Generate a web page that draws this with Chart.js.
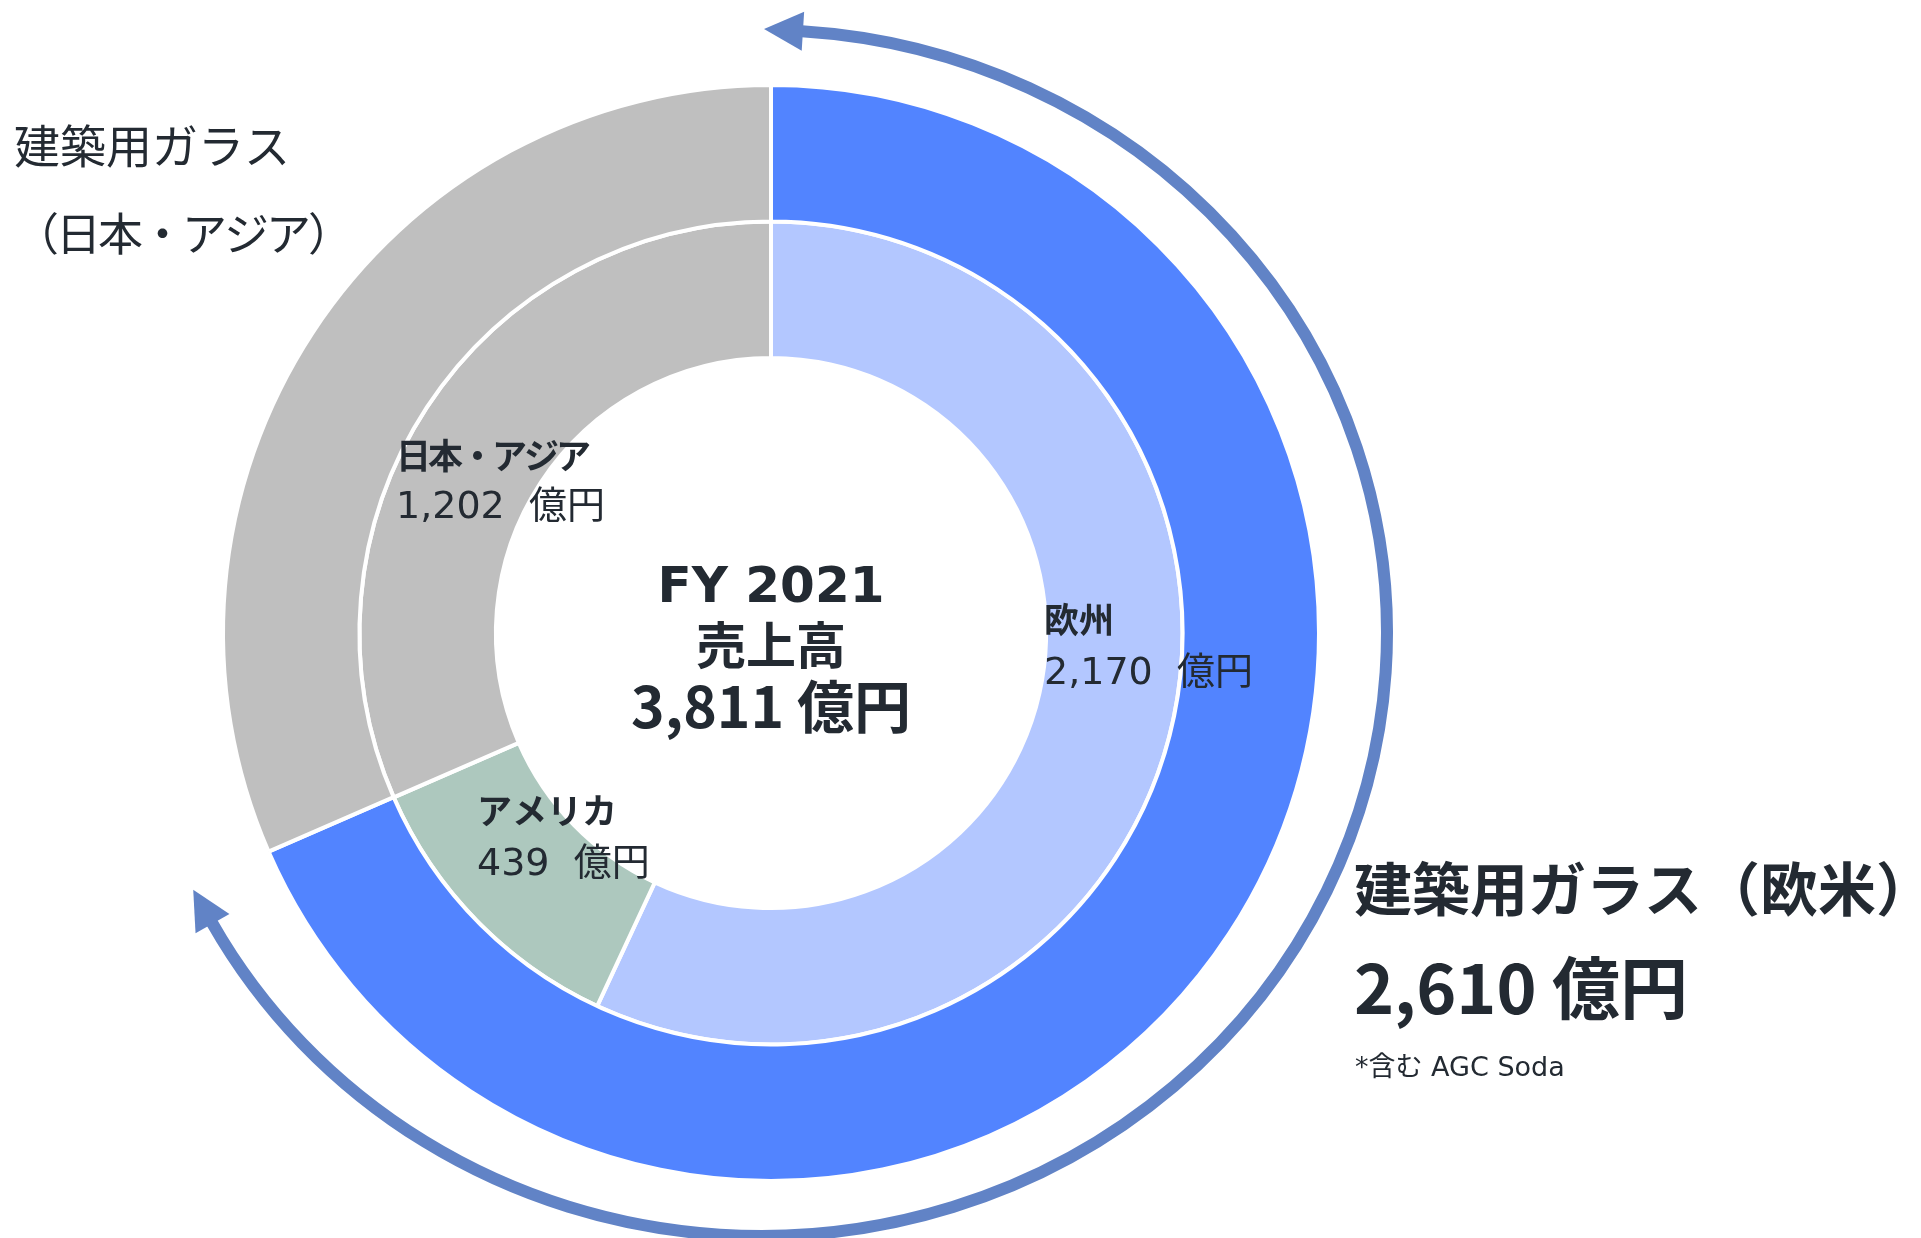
<!DOCTYPE html>
<html lang="ja">
<head>
<meta charset="utf-8">
<script src="https://cdn.jsdelivr.net/npm/chart.js@4.4.0/dist/chart.umd.min.js"></script>
<style>
  html, body { margin: 0; padding: 0; background: #ffffff; }
  #wrap { position: relative; width: 1921px; height: 1238px; }
</style>
</head>
<body>
<div id="wrap"><canvas id="c"></canvas></div>
<script>
// ---- data ----
const outerLabels = ['建築用ガラス（欧米）', '建築用ガラス（日本・アジア）'];
const outerValues = [2610, 1202];
const innerLabels = ['欧州', 'アメリカ', '日本・アジア'];
const innerValues = [2170, 439, 1202];
const fiscalYear = 'FY 2021';
const unit = '億円';

// ---- styles ----
const outerColors = ['#5284FF', '#BFBFBF'];
const innerColors = ['#B3C7FF', '#ADC8BE', '#BFBFBF'];
const textColor = '#232A32';
const arrowColor = '#6183C6';
const LATIN = '"DejaVu Sans", "Noto Sans CJK JP", sans-serif';
const CJK = '"Noto Sans CJK JP", sans-serif';

const fmt = v => v.toLocaleString('en-US');
const total = innerValues.reduce((a, b) => a + b, 0);

// label anchors relative to chart center (px)
const innerLabelPos = [
  { dx: 273, dy: -13, gap: 54 },   // 欧州
  { dx: -294, dy: 178, gap: 54 },  // アメリカ
  { dx: -375, dy: -177, gap: 52 }  // 日本・アジア
];

function drawArrow(ctx, cx, cy, rx, ry, t0, t1) {
  const lw = 12, L = 38, W = 39;
  ctx.save();
  ctx.strokeStyle = arrowColor;
  ctx.fillStyle = arrowColor;
  ctx.lineWidth = lw;
  ctx.lineCap = 'butt';
  ctx.beginPath();
  ctx.ellipse(cx, cy, rx, ry, 0, t0, t1);
  ctx.stroke();
  const head = (t, sign) => {
    const px = cx + rx * Math.cos(t), py = cy + ry * Math.sin(t);
    let tx = -rx * Math.sin(t), ty = ry * Math.cos(t);
    const n = Math.hypot(tx, ty);
    tx = tx / n * sign; ty = ty / n * sign;
    const nx = -ty, ny = tx;
    ctx.beginPath();
    ctx.moveTo(px + tx * L, py + ty * L);
    ctx.lineTo(px + nx * W / 2 - tx * 1, py + ny * W / 2 - ty * 1);
    ctx.lineTo(px - nx * W / 2 - tx * 1, py - ny * W / 2 - ty * 1);
    ctx.closePath();
    ctx.fill();
  };
  head(t0, -1);
  head(t1, 1);
  ctx.restore();
}

function text(ctx, str, x, y, font, align, spacing) {
  ctx.font = font;
  ctx.textAlign = align || 'left';
  ctx.textBaseline = 'middle';
  ctx.letterSpacing = spacing || '0px';
  ctx.fillText(str, x, y);
  ctx.letterSpacing = '0px';
}

const annotate = {
  id: 'annotate',
  afterDatasetsDraw(chart) {
    const ctx = chart.ctx;
    const arc = chart.getDatasetMeta(0).data[0];
    const cx = arc.x, cy = arc.y, R = arc.outerRadius;
    const deg = Math.PI / 180;

    // curved arrow around the 欧米 segment
    drawArrow(ctx, cx - 10, cy, R * 1.1423, R * 1.1004,
      arc.startAngle + 3.75 * deg, arc.endAngle - 5.2 * deg);

    ctx.save();
    ctx.fillStyle = textColor;

    // center text
    text(ctx, fiscalYear, cx, cy - 44, 'bold 50px ' + LATIN, 'center');
    text(ctx, '売上高', cx, cy + 12, 'bold 50px ' + CJK, 'center');
    text(ctx, fmt(total) + ' ' + unit, cx, cy + 73, 'bold 57px ' + CJK, 'center');

    // inner ring labels
    innerLabels.forEach((lab, i) => {
      const p = innerLabelPos[i];
      text(ctx, lab, cx + p.dx, cy + p.dy, 'bold 35px ' + CJK, 'left', i === 2 ? '-3px' : '0px');
      text(ctx, fmt(innerValues[i]) + '  ' + unit, cx + p.dx, cy + p.dy + p.gap, '38px ' + LATIN);
    });

    // outer labels
    text(ctx, '建築用ガラス', 14, 146, '46px ' + CJK);
    text(ctx, '（日本・アジア）', 14, 234, '45px ' + CJK, 'left', '-3px');

    text(ctx, outerLabels[0], 1354, 889, 'bold 58px ' + CJK, 'left', '0px');
    text(ctx, fmt(outerValues[0]) + ' ' + unit, 1354, 988, 'bold 68px ' + CJK);
    text(ctx, '*含む AGC Soda', 1355, 1069, '27px ' + LATIN);

    ctx.restore();
  }
};

new Chart(document.getElementById('c'), {
  type: 'doughnut',
  data: {
    labels: innerLabels,
    datasets: [
      { data: outerValues, backgroundColor: outerColors, borderColor: '#ffffff', borderWidth: 4 },
      { data: innerValues, backgroundColor: innerColors, borderColor: '#ffffff', borderWidth: 4 }
    ]
  },
  options: {
    responsive: true,
    maintainAspectRatio: false,
    animation: false,
    cutout: '50.2%',
    layout: { padding: { left: 221, top: 83, right: 600, bottom: 55 } },
    plugins: { legend: { display: false }, tooltip: { enabled: false } }
  },
  plugins: [annotate]
});
</script>
</body>
</html>
